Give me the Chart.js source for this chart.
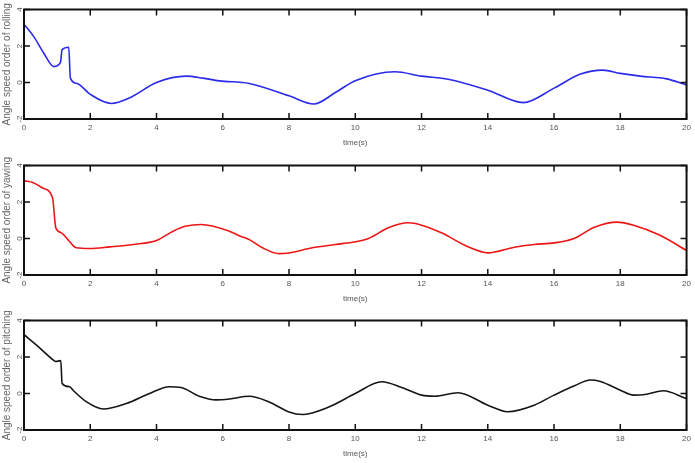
<!DOCTYPE html>
<html>
<head>
<meta charset="utf-8">
<script src="https://cdn.jsdelivr.net/npm/chart.js@4/dist/chart.umd.min.js"></script>
<style>
  html, body { margin: 0; padding: 0; background: #fff; }
  body { width: 695px; height: 463px; position: relative; overflow: hidden; }
  canvas { position: absolute; left: 0; }
</style>
</head>
<body>
<canvas id="c1" width="695" height="148" style="top:0px"></canvas>
<canvas id="c2" width="695" height="148" style="top:155.5px"></canvas>
<canvas id="c3" width="695" height="148" style="top:311px"></canvas>
<script>
// ---- data ----
const xTickValues = [0, 2, 4, 6, 8, 10, 12, 14, 16, 18, 20];
const yTickValues = [-2, 0, 2, 4];

const rollTime = [0, 0.3, 0.6, 0.9, 1.1, 1.15, 1.35, 1.4, 1.6, 2.0, 2.64, 3.2, 4.0, 4.9, 5.4, 5.9, 6.8, 8.0, 8.75, 9.4, 10.0, 11.2, 12.0, 12.8, 14.0, 15.07, 16.0, 16.8, 17.47, 18.0, 18.6, 19.4, 20];
const rollValue = [3.19, 2.5, 1.6, 0.87, 1.1, 1.8, 1.93, 0.24, -0.05, -0.65, -1.15, -0.83, 0.0, 0.35, 0.24, 0.09, -0.05, -0.73, -1.18, -0.55, 0.1, 0.59, 0.35, 0.18, -0.42, -1.1, -0.31, 0.46, 0.68, 0.5, 0.35, 0.2, -0.13];

const yawTime = [0, 0.28, 0.58, 0.86, 0.96, 1.13, 1.38, 1.58, 1.98, 2.59, 3.29, 4.0, 4.5, 4.9, 5.34, 6.2, 6.5, 6.8, 7.2, 7.7, 8.0, 8.7, 9.4, 10.0, 10.4, 11.0, 11.6, 12.0, 12.6, 13.4, 14.0, 14.8, 15.4, 16.0, 16.6, 17.22, 17.9, 18.4, 19.2, 20];
const yawValue = [3.16, 3.06, 2.75, 2.24, 0.59, 0.31, -0.18, -0.51, -0.55, -0.46, -0.33, -0.11, 0.4, 0.68, 0.77, 0.4, 0.15, -0.06, -0.51, -0.83, -0.79, -0.51, -0.33, -0.18, 0.0, 0.59, 0.86, 0.73, 0.31, -0.45, -0.79, -0.48, -0.33, -0.24, 0.0, 0.62, 0.9, 0.73, 0.18, -0.66];

const pitchTime = [0, 0.48, 0.88, 0.96, 1.11, 1.15, 1.38, 1.48, 1.89, 2.39, 3.09, 3.79, 4.39, 4.74, 5.29, 5.8, 6.2, 6.8, 7.4, 8.0, 8.4, 9.2, 10.0, 10.8, 11.4, 12.0, 12.4, 13.1, 14.0, 14.6, 15.4, 16.0, 16.6, 17.1, 17.4, 18.0, 18.4, 18.8, 19.3, 20];
const pitchValue = [3.22, 2.49, 1.84, 1.75, 1.8, 0.55, 0.37, 0.18, -0.46, -0.85, -0.55, 0.0, 0.37, 0.33, -0.15, -0.35, -0.3, -0.15, -0.46, -1.01, -1.15, -0.74, 0.0, 0.64, 0.33, -0.09, -0.15, 0.04, -0.64, -1.0, -0.64, -0.09, 0.41, 0.74, 0.66, 0.18, -0.09, -0.04, 0.15, -0.28];

const xTitle = 'time(s)';
const yTitles = ['Angle speed order of rolling', 'Angle speed order of yawing', 'Angle speed order of pitching'];

// ---- frame + inward ticks plugin ----
const framePlugin = {
  id: 'frame',
  afterDraw(chart) {
    const { ctx, chartArea: a, scales: { x, y } } = chart;
    ctx.save();
    ctx.strokeStyle = '#111';
    ctx.lineWidth = 1.5;
    const tl = 6;
    ctx.beginPath();
    xTickValues.forEach(v => {
      const px = x.getPixelForValue(v);
      ctx.moveTo(px, a.bottom); ctx.lineTo(px, a.bottom - tl);
      ctx.moveTo(px, a.top); ctx.lineTo(px, a.top + tl);
    });
    yTickValues.forEach(v => {
      const py = y.getPixelForValue(v);
      ctx.moveTo(a.left, py); ctx.lineTo(a.left + tl, py);
      ctx.moveTo(a.right, py); ctx.lineTo(a.right - tl, py);
    });
    ctx.stroke();
    ctx.lineWidth = 2;
    ctx.strokeRect(a.left, a.top, a.right - a.left, a.bottom - a.top);
    ctx.restore();
  }
};

function makeChart(id, times, values, color, yTitle) {
  const pts = times.map((t, i) => ({ x: t, y: values[i] }));
  return new Chart(document.getElementById(id), {
    type: 'line',
    data: {
      datasets: [{
        data: pts,
        borderColor: color,
        borderWidth: 1.6,
        pointRadius: 0,
        cubicInterpolationMode: 'monotone',
        fill: false
      }]
    },
    options: {
      responsive: false,
      animation: false,
      devicePixelRatio: 1,
      layout: { padding: { top: 9.5, right: 0, left: 0, bottom: 0 } },
      plugins: { legend: { display: false }, tooltip: { enabled: false } },
      scales: {
        x: {
          type: 'linear',
          min: 0, max: 20,
          afterBuildTicks(scale) { scale.ticks = xTickValues.map(v => ({ value: v })); },
          afterFit(scale) { scale.height = 29; },
          grid: { display: false, drawTicks: false },
          border: { display: false },
          ticks: { padding: 4, maxRotation: 0, color: '#555', font: { family: 'Liberation Sans, Arial', size: 8 } },
          title: { display: true, text: xTitle, color: '#555', padding: 0, font: { family: 'Liberation Sans, Arial', size: 8 } }
        },
        y: {
          type: 'linear',
          min: -2, max: 4,
          afterBuildTicks(scale) { scale.ticks = yTickValues.map(v => ({ value: v })); },
          afterFit(scale) { scale.width = 24; },
          grid: { display: false, drawTicks: false },
          border: { display: false },
          ticks: { padding: 1, minRotation: 90, maxRotation: 90, crossAlign: 'center', color: '#555', font: { family: 'Liberation Sans, Arial', size: 8 } },
          title: { display: true, text: yTitle, color: '#666', padding: 1, font: { family: 'Liberation Sans, Arial', size: 10 } }
        }
      }
    },
    plugins: [framePlugin]
  });
}

makeChart('c1', rollTime, rollValue, '#2a2aea', yTitles[0]);
makeChart('c2', yawTime, yawValue, '#ee1515', yTitles[1]);
makeChart('c3', pitchTime, pitchValue, '#151515', yTitles[2]);
</script>
</body>
</html>
